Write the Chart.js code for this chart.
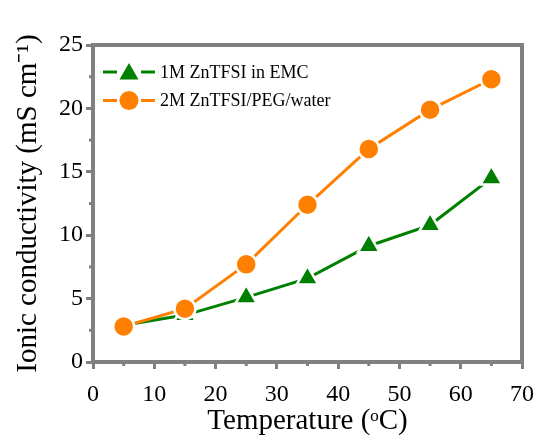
<!DOCTYPE html>
<html>
<head>
<meta charset="utf-8">
<script src="https://cdn.jsdelivr.net/npm/chart.js@4/dist/chart.umd.min.js"></script>
<style>
html,body{margin:0;padding:0;background:#fff;}
#wrap{width:537px;height:443px;position:relative;}
</style>
</head>
<body>
<div id="wrap"><canvas id="c" width="537" height="443"></canvas></div>
<script>
const temperatures = [5, 15, 25, 35, 45, 55, 65];
const emcValues = [2.9, 3.7, 5.1, 6.6, 9.15, 10.8, 14.5];
const pegValues = [2.8, 4.2, 7.7, 12.4, 16.8, 19.9, 22.3];
const seriesNames = ["1M ZnTFSI in EMC", "2M ZnTFSI/PEG/water"];
const xTicks = [0, 10, 20, 30, 40, 50, 60, 70];
const yTicks = [0, 5, 10, 15, 20, 25];

const AXIS = '#808080';
const FONT = '"Liberation Serif", "Times New Roman", serif';

const framePlugin = {
  id: 'frame',
  beforeDatasetsDraw(chart) {
    const {ctx, chartArea: a, scales} = chart;
    ctx.save();
    ctx.strokeStyle = AXIS;
    ctx.lineWidth = 3;
    const xs = scales.x, ys = scales.y;
    for (let v = 5; v < 70; v += 10) {
      const px = xs.getPixelForValue(v);
      ctx.beginPath(); ctx.moveTo(px, a.bottom); ctx.lineTo(px, a.bottom + 4); ctx.stroke();
    }
    for (let v = 2.5; v < 25; v += 5) {
      const py = ys.getPixelForValue(v);
      ctx.beginPath(); ctx.moveTo(a.left, py); ctx.lineTo(a.left - 4, py); ctx.stroke();
    }
    ctx.lineWidth = 4;
    ctx.strokeRect(a.left, a.top, a.right - a.left, a.bottom - a.top);
    ctx.restore();
  }
};

const legendPlugin = {
  id: 'customLegend',
  afterDatasetsDraw(chart) {
    const {ctx, chartArea: a} = chart;
    const items = [chart.data.datasets[0], chart.data.datasets[1]];
    ctx.save();
    items.forEach((ds, i) => {
      const y = a.top + 27 + i * 28.5;
      const x0 = a.left + 10, x1 = a.left + 62, xm = (x0 + x1) / 2;
      ctx.strokeStyle = ds.borderColor;
      ctx.lineWidth = 3;
      ctx.beginPath(); ctx.moveTo(x0, y); ctx.lineTo(xm - 12, y); ctx.stroke();
      ctx.beginPath(); ctx.moveTo(xm + 12, y); ctx.lineTo(x1, y); ctx.stroke();
      ctx.fillStyle = ds.backgroundColor;
      ctx.beginPath();
      if (ds.pointStyle === 'circle') {
        ctx.arc(xm, y, ds.legendRadius, 0, Math.PI * 2);
      } else {
        const r = ds.legendRadius;
        for (let k = 0; k < 3; k++) {
          const ang = -Math.PI / 2 + k * 2 * Math.PI / 3;
          const px = xm + Math.cos(ang) * r, py = y + 2 + Math.sin(ang) * r;
          if (k === 0) ctx.moveTo(px, py); else ctx.lineTo(px, py);
        }
        ctx.closePath();
      }
      ctx.fill();
      ctx.fillStyle = '#000';
      ctx.font = '18px ' + FONT;
      ctx.textBaseline = 'middle';
      ctx.textAlign = 'left';
      ctx.fillText(seriesNames[i], x1 + 5, y + 1);
    });
    ctx.restore();
  }
};

new Chart(document.getElementById('c'), {
  type: 'line',
  data: {
    datasets: [
      {
        label: seriesNames[0],
        data: temperatures.map((t, i) => ({x: t, y: emcValues[i]})),
        borderColor: '#008000',
        backgroundColor: '#008000',
        pointBackgroundColor: '#008000',
        pointBorderColor: '#ffffff',
        pointBorderWidth: 2.5,
        pointStyle: 'triangle',
        pointRadius: 12.5,
        legendRadius: 11,
        borderWidth: 3,
        order: 2
      },
      {
        label: seriesNames[1],
        data: temperatures.map((t, i) => ({x: t, y: pegValues[i]})),
        borderColor: '#ff8000',
        backgroundColor: '#ff8000',
        pointBackgroundColor: '#ff8000',
        pointBorderColor: '#ffffff',
        pointBorderWidth: 2.5,
        pointStyle: 'circle',
        pointRadius: 10.5,
        legendRadius: 9.5,
        borderWidth: 3,
        order: 1
      }
    ]
  },
  options: {
    responsive: false,
    animation: false,
    layout: {padding: {left: 0, top: 45, right: 9, bottom: 0}},
    plugins: {legend: {display: false}, tooltip: {enabled: false}},
    scales: {
      x: {
        type: 'linear',
        min: 0, max: 70,
        afterBuildTicks(s) { s.ticks = xTicks.map(v => ({value: v})); },
        afterFit(s) { s.height = 81; s.paddingRight = 0; s.paddingLeft = 0; },
        border: {display: false},
        grid: {drawOnChartArea: false, color: AXIS, lineWidth: 3, tickLength: 7},
        ticks: {color: '#000', font: {family: FONT, size: 24}, padding: 11, maxRotation: 0},
        title: {display: true, text: 'Temperature (ᵒC)', color: '#000', font: {family: FONT, size: 29}, padding: {top: 0, bottom: 4}}
      },
      y: {
        type: 'linear',
        min: 0, max: 25,
        afterBuildTicks(s) { s.ticks = yTicks.map(v => ({value: v})); },
        afterFit(s) { s.width = 93; },
        border: {display: false},
        grid: {drawOnChartArea: false, color: AXIS, lineWidth: 3, tickLength: 7},
        ticks: {color: '#000', font: {family: FONT, size: 24}, padding: 3},
        title: {display: true, text: 'Ionic conductivity (mS cm⁻¹)', color: '#000', font: {family: FONT, size: 29}, padding: {top: 11, bottom: 0}}
      }
    }
  },
  plugins: [framePlugin, legendPlugin]
});
</script>
</body>
</html>
